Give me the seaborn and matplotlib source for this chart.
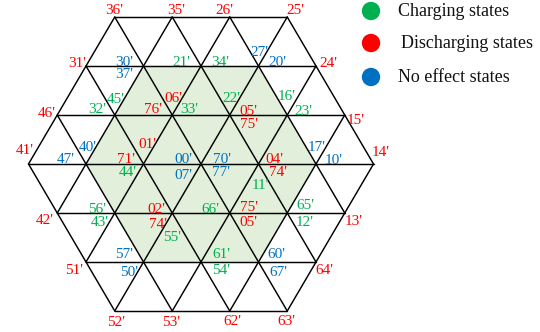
import numpy as np
import pandas as pd
import matplotlib
matplotlib.use("Agg")
import matplotlib.pyplot as plt
import seaborn as sns

# ---------------- data ----------------
# vertex labels: text, lattice column (x in side units), lattice row, state
labels = ["36'", "35'", "26'", "25'",
          "31'", "30'", "37'", "21'", "34'", "27'", "20'", "24'",
          "46'", "32'", "45'", "76'", "06'", "33'", "22'", "05'", "75'", "16'", "23'", "15'",
          "41'", "40'", "47'", "01'", "71'", "44'", "00'", "07'", "70'", "77'", "04'", "74'", "11'", "17'", "10'", "14'",
          "42'", "56'", "43'", "02'", "74'", "55'", "66'", "75'", "05'", "65'", "12'", "13'",
          "51'", "57'", "50'", "61'", "54'", "60'", "67'", "64'",
          "52'", "53'", "62'", "63'"]
cols = [-1.5, -0.5, 0.5, 1.5,
        -2, -1, -1, 0, 0, 1, 1, 2,
        -2.5, -1.5, -1.5, -0.5, -0.5, -0.5, 0.5, 0.5, 0.5, 1.5, 1.5, 2.5,
        -3, -2, -2, -1, -1, -1, 0, 0, 0, 0, 1, 1, 1, 2, 2, 3,
        -2.5, -1.5, -1.5, -0.5, -0.5, -0.5, 0.5, 0.5, 0.5, 1.5, 1.5, 2.5,
        -2, -1, -1, 0, 0, 1, 1, 2,
        -1.5, -0.5, 0.5, 1.5]
rows = [3] * 4 + [2] * 8 + [1] * 12 + [0] * 16 + [-1] * 12 + [-2] * 8 + [-3] * 4
states = ["D", "D", "D", "D",
          "D", "N", "N", "C", "C", "N", "N", "D",
          "D", "C", "C", "D", "D", "C", "C", "D", "D", "C", "C", "D",
          "D", "N", "N", "D", "D", "C", "N", "N", "N", "N", "D", "D", "C", "N", "N", "D",
          "D", "C", "C", "D", "D", "C", "C", "D", "D", "C", "C", "D",
          "D", "N", "N", "C", "C", "N", "N", "D",
          "D", "D", "D", "D"]
legend_states = ["C", "D", "N"]
legend_texts = ["Charging states", "Discharging states", "No effect states"]

# ---------------- layout / style ----------------
# label offsets from their vertex, in pixels (dx, dy; dy downward)
label_offsets = [(-1, -8), (4, -8), (-5, -8), (8, -8),
                 (-9, -4), (-19, -5), (-19, 7), (-20, -5), (19, -5), (1, -15), (19, -5), (12, -4),
                 (-10, -3), (-18, -7), (1, -17), (-19, -7), (1, -18), (17, -7), (2, -18), (19, -5), (19, 8), (-1, -20), (16, -5), (11, 4),
                 (-4, -15), (2, -18), (-20, -6), (4, -21), (-18, -6), (-16, 7), (-18, -6), (-18, 10), (21, -6), (20, 7), (16, -6), (20, 7), (2, 20), (1, -18), (18, -5), (7, -13),
                 (-13, 6), (-18, -5), (-15, 8), (-16, -5), (-14, 10), (0, 23), (-19, -5), (19, -7), (19, 8), (18, -9), (17, 8), (9, 7),
                 (-12, 7), (-19, -9), (-14, 9), (20, -9), (20, 7), (18, -9), (20, 9), (8, 7),
                 (1, 10), (-1, 10), (3, 9), (-1, 9)]
palette = {"C": "#00B050", "D": "#FF0000", "N": "#0070C0"}
CX, CY = 201.0, 164.0     # centre of hexagon (pixels)
S, H = 57.5, 49.0         # triangle side and row height (pixels)
SHADE = "#E2EFDA"


def to_px(a, b):
    """lattice (a, b) -> pixel coords (x right, y down)"""
    xu = a + b / 2.0
    return CX + S * xu, CY - H * b


def col_row_px(c, r):
    return CX + S * c, CY - H * r


sns.set_theme(style="white")
plt.rcParams["font.family"] = ["Liberation Serif", "DejaVu Serif"]

fig = plt.figure(figsize=(5.4, 3.32), dpi=100)
ax = fig.add_axes([0, 0, 1, 1])

# shaded inner hexagon (side 2)
hex2 = [(2, 0), (0, 2), (-2, 2), (-2, 0), (0, -2), (2, -2)]
pts = np.array([to_px(a, b) for a, b in hex2])
ax.fill(pts[:, 0], pts[:, 1], color=SHADE, zorder=0, lw=0)

# triangular grid inside hexagon of side 3
N = 3
segs = []
for k in range(-N, N + 1):
    a0, a1 = max(-N, -N - k), min(N, N - k)
    segs.append((to_px(a0, k), to_px(a1, k)))
    b0, b1 = max(-N, -N - k), min(N, N - k)
    segs.append((to_px(k, b0), to_px(k, b1)))
    lo, hi = max(-N, k - N), min(N, k + N)
    segs.append((to_px(k - lo, lo), to_px(k - hi, hi)))
for (x0, y0), (x1, y1) in segs:
    ax.plot([x0, x1], [y0, y1], color="black", lw=1.05, solid_capstyle="round", zorder=1)

# vertex labels
for txt, c, r, st, (dx, dy) in zip(labels, cols, rows, states, label_offsets):
    x, y = col_row_px(c, r)
    ax.text(x + dx, y + dy + 5, txt, color=palette[st], fontsize=11,
            ha="center", va="baseline", zorder=3)

# legend markers and texts
leg = pd.DataFrame({"state": legend_states,
                    "x": [371.0] * 3,
                    "y": [11.0, 43.0, 77.0]})
sns.scatterplot(data=leg, x="x", y="y", hue="state", palette=palette,
                s=175, edgecolor="none", legend=False, ax=ax, zorder=3)
text_x = [398, 401, 398]
for (_, row), t, tx in zip(leg.iterrows(), legend_texts, text_x):
    ax.text(tx, row["y"] + 5.5, t, fontsize=13, color="#111111",
            ha="left", va="baseline")

ax.set_xlim(0, 540)
ax.set_ylim(332, 0)
ax.axis("off")

fig.savefig("out.png", dpi=100)
